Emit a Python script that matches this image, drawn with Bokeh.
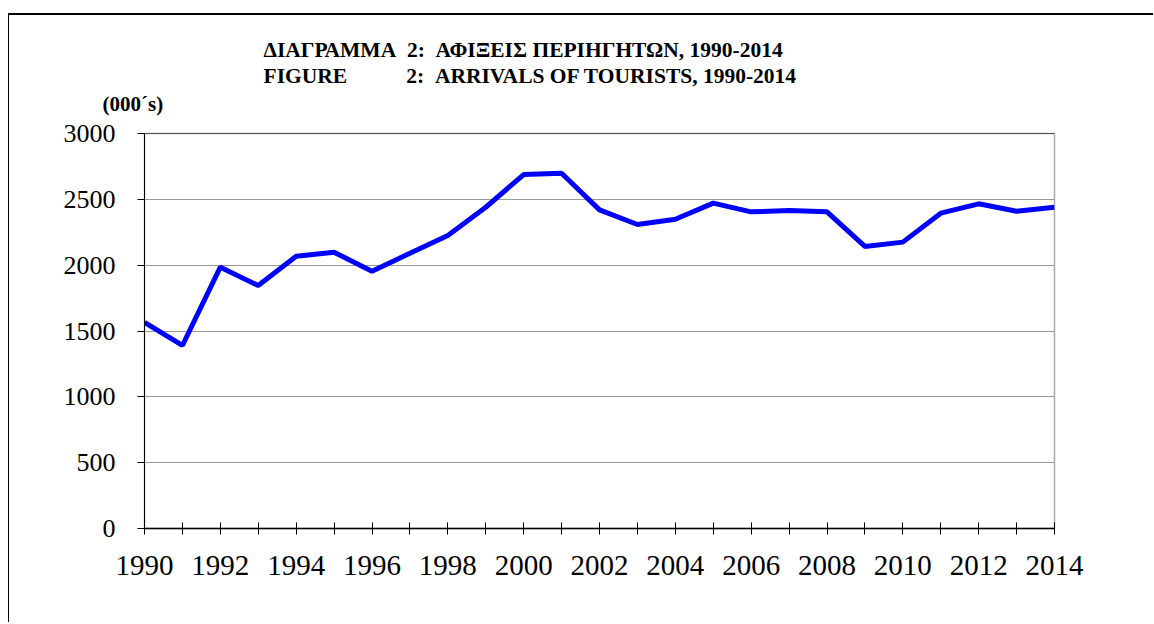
from bokeh.plotting import figure
from bokeh.models import FixedTicker, Span, Range1d, Title
from bokeh.embed import file_html
from bokeh.resources import INLINE

years = list(range(1990, 2015))
arrivals = [1565, 1390, 1985, 1845, 2068, 2098, 1954, 2090, 2225, 2440,
            2688, 2698, 2420, 2309, 2349, 2471, 2405, 2415, 2405, 2142,
            2175, 2395, 2466, 2410, 2440]
y_ticks = [0, 500, 1000, 1500, 2000, 2500, 3000]
NB = "\u00a0"
title_gr = "ΔΙΑΓΡΑΜΜΑ" + NB * 2 + "2:" + NB * 2 + "ΑΦΙΞΕΙΣ ΠΕΡΙΗΓΗΤΩΝ, 1990-2014"
title_en = "FIGURE" + NB * 11 + "2:" + NB * 2 + "ARRIVALS OF TOURISTS, 1990-2014"
unit_label = "(000´s)"

FONT = "Liberation Serif"

p = figure(width=1145, height=609, output_backend="svg", toolbar_location=None,
           x_range=Range1d(1990, 2014), y_range=Range1d(0, 3000),
           min_border_left=135, min_border_right=100, min_border_top=118, min_border_bottom=96)
p.styles = {"margin-top": "13px", "margin-left": "8px",
            "border-top": "2px solid black", "border-left": "1px solid black"}

p.line(years, arrivals, line_color="#0000FF", line_width=5)

p.xaxis.ticker = FixedTicker(ticks=years)
p.xaxis.major_label_overrides = {y: ("" if y % 2 else str(y)) for y in years}
p.xaxis.major_tick_in = 6
p.xaxis.major_tick_out = 6
p.xaxis.minor_tick_line_color = None
p.xaxis.axis_line_color = "black"
p.xaxis.axis_line_width = 1.5
p.xaxis.major_label_standoff = 21
p.xaxis.major_label_text_font = FONT
p.xaxis.major_label_text_font_size = "29px"
p.xaxis.major_label_text_color = "black"

p.yaxis.ticker = FixedTicker(ticks=y_ticks)
p.yaxis.major_tick_in = 0
p.yaxis.major_tick_out = 7
p.yaxis.minor_tick_line_color = None
p.yaxis.axis_line_color = "black"
p.yaxis.major_label_standoff = 22
p.yaxis.major_label_text_font = FONT
p.yaxis.major_label_text_font_size = "26px"
p.yaxis.major_label_text_color = "black"

p.xgrid.grid_line_color = None
p.ygrid.grid_line_color = "#999999"
p.ygrid.grid_line_width = 1
p.outline_line_color = "#aaaaaa"
p.outline_line_width = 1.5
p.add_layout(Span(location=3000, dimension="width", line_color="black", line_width=1))

def title(text, offset, standoff, size="21.5px"):
    p.add_layout(Title(text=text, align="left", offset=offset, text_font=FONT,
                       text_font_size=size, text_font_style="bold", text_color="black",
                       standoff=standoff), "above")

title(NB, 0, 13, size="1px")
title(unit_label, -42, 4, size="21px")
title(title_en, 119, 0)
title(title_gr, 119, 0)

open("out.html", "w").write(file_html(p, INLINE))
